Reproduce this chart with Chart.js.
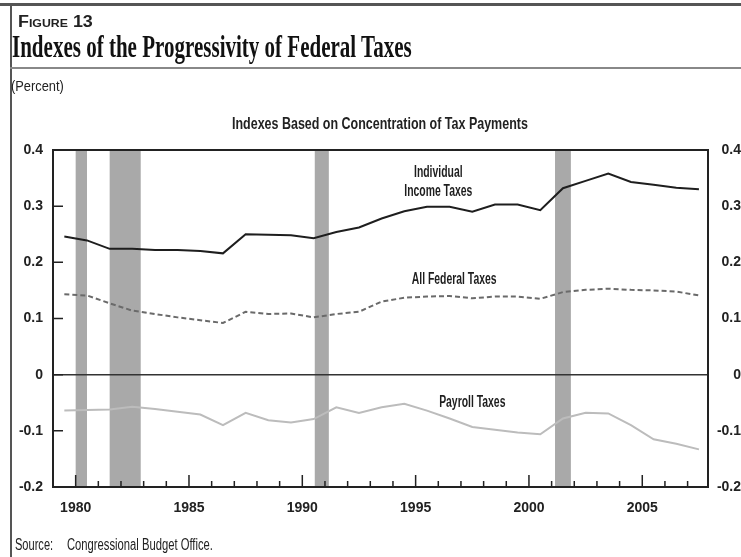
<!DOCTYPE html>
<html>
<head>
<meta charset="utf-8">
<script src="https://cdn.jsdelivr.net/npm/chart.js@4.4.0/dist/chart.umd.min.js"></script>
<style>
  body { margin: 0; background: #fff; }
  #wrap { position: relative; width: 741px; height: 557px; overflow: hidden; background: #fff; }
  #myChart { position: absolute; left: 0; top: 0; }
  .bar { position: absolute; background: #555; }
  .txt { position: absolute; line-height: 1; white-space: nowrap; color: #222; transform-origin: left top; font-family: 'Liberation Sans', Arial, sans-serif; }
  #fig { left: 18px; top: 14px; font-size: 16px; font-weight: bold; font-variant: small-caps; }
  #title { left: 12px; top: 29px; font: bold 31px 'Liberation Serif', serif; color: #111; }
  #sub { left: 232px; top: 115px; font-size: 17px; font-weight: bold; }
  #unit { left: 11px; top: 78px; font-size: 15px; }
  #srcA { left: 15px; top: 537px; font-size: 16px; }
  #srcB { left: 67px; top: 537px; font-size: 16px; }
</style>
</head>
<body>
<div id="wrap">
  <canvas id="myChart" width="741" height="557"></canvas>
  <div class="bar" style="left:0;top:3px;width:741px;height:3px;"></div>
  <div class="bar" style="left:10px;top:3px;width:2px;height:554px;"></div>
  <div class="bar" style="left:10px;top:67px;width:731px;height:2px;background:#888;"></div>
  <div class="txt" id="fig">Figure 13</div>
  <div class="txt" id="title">Indexes of the Progressivity of Federal Taxes</div>
  <div class="txt" id="unit">(Percent)</div>
  <div class="txt" id="sub">Indexes Based on Concentration of Tax Payments</div>
  <div class="txt" id="srcA">Source:</div>
  <div class="txt" id="srcB">Congressional Budget Office.</div>
</div>
<script>
// values, one per year
const years = [1979, 1980, 1981, 1982, 1983, 1984, 1985, 1986, 1987, 1988, 1989, 1990, 1991, 1992, 1993, 1994,
  1995, 1996, 1997, 1998, 1999, 2000, 2001, 2002, 2003, 2004, 2005, 2006, 2007];
const individualIncome = [0.246, 0.239, 0.224, 0.224, 0.222, 0.222, 0.220, 0.216, 0.250, 0.249, 0.248, 0.243, 0.254, 0.262, 0.278, 0.291,
  0.299, 0.299, 0.290, 0.303, 0.303, 0.293, 0.332, 0.345, 0.358, 0.343, 0.338, 0.333, 0.330];
const allFederal = [0.143, 0.141, 0.127, 0.114, 0.108, 0.102, 0.097, 0.092, 0.112, 0.108, 0.109, 0.102, 0.108, 0.112, 0.130, 0.137,
  0.139, 0.140, 0.136, 0.139, 0.139, 0.135, 0.147, 0.151, 0.153, 0.151, 0.150, 0.148, 0.141];
const payroll = [-0.064, -0.063, -0.062, -0.057, -0.061, -0.066, -0.071, -0.090, -0.068, -0.081, -0.085, -0.079, -0.058, -0.068, -0.058, -0.052,
  -0.064, -0.078, -0.093, -0.098, -0.103, -0.106, -0.078, -0.068, -0.069, -0.090, -0.115, -0.123, -0.133];

// recessions (shaded bars)
const recessionStart = [1980.0, 1981.5, 1990.55, 2001.15];
const recessionEnd = [1980.5, 1982.87, 1991.17, 2001.85];

const xTickYears = [1980, 1985, 1990, 1995, 2000, 2005];
const seriesNames = ['Individual Income Taxes', 'All Federal Taxes', 'Payroll Taxes'];

// where the series names sit (data units) and how they wrap
const nameLines = [['Individual', 'Income Taxes'], ['All Federal Taxes'], ['Payroll Taxes']];
const nameX = [1996.0, 1996.7, 1997.5];
const nameY = [0.342, 0.170, -0.050];

const sans = "'Liberation Sans', Arial, sans-serif";

function toPoints(vals) {
  return years.map((yr, i) => ({ x: yr + 0.5, y: vals[i] }));
}

const recessionBars = {
  id: 'recessionBars',
  beforeDraw(chart) {
    const { ctx, chartArea: a, scales: { x } } = chart;
    ctx.save();
    ctx.fillStyle = '#a9a9a9';
    for (let i = 0; i < recessionStart.length; i++) {
      const x0 = x.getPixelForValue(recessionStart[i]);
      const x1 = x.getPixelForValue(recessionEnd[i]);
      ctx.fillRect(x0, a.top, x1 - x0, a.bottom - a.top);
    }
    ctx.restore();
  }
};

const frameAndTicks = {
  id: 'frameAndTicks',
  afterDatasetsDraw(chart) {
    const { ctx, chartArea: a, scales: { x, y } } = chart;
    ctx.save();
    ctx.strokeStyle = '#222';
    ctx.lineWidth = 1.5;
    ctx.beginPath();
    for (let yr = Math.ceil(x.min) + 1; yr < x.max; yr++) {
      const px = x.getPixelForValue(yr);
      const len = yr % 5 === 0 ? 12 : 6;
      ctx.moveTo(px, a.bottom);
      ctx.lineTo(px, a.bottom - len);
    }
    y.ticks.forEach(t => {
      const py = y.getPixelForValue(t.value);
      ctx.moveTo(a.left, py);
      ctx.lineTo(a.left + 10, py);
    });
    ctx.stroke();
    ctx.lineWidth = 2;
    ctx.strokeRect(a.left, a.top, a.right - a.left, a.bottom - a.top);

    // series names, condensed like the original type
    ctx.fillStyle = '#1e1e1e';
    ctx.font = 'bold 16px ' + sans;
    ctx.textAlign = 'center';
    ctx.textBaseline = 'middle';
    nameLines.forEach((lines, i) => {
      const cx = x.getPixelForValue(nameX[i]);
      const cy = y.getPixelForValue(nameY[i]);
      lines.forEach((txt, j) => {
        ctx.save();
        ctx.translate(cx, cy + (j - (lines.length - 1) / 2) * 19);
        ctx.scale(0.65, 1);
        ctx.fillText(txt, 0, 0);
        ctx.restore();
      });
    });
    ctx.restore();
  }
};

const tickFont = { family: sans, size: 14, weight: 'bold' };
const yLabel = v => Math.abs(v) < 1e-9 ? '0' : v.toFixed(1);

new Chart(document.getElementById('myChart'), {
  type: 'line',
  data: {
    datasets: [
      { label: seriesNames[0], data: toPoints(individualIncome), borderColor: '#1e1e1e', borderWidth: 2 },
      { label: seriesNames[1], data: toPoints(allFederal), borderColor: '#6a6a6a', borderWidth: 2, borderDash: [5, 3] },
      { label: seriesNames[2], data: toPoints(payroll), borderColor: '#bcbcbc', borderWidth: 2 }
    ]
  },
  options: {
    responsive: false,
    animation: false,
    devicePixelRatio: 1,
    elements: { point: { radius: 0 }, line: { tension: 0 } },
    layout: { padding: { left: 0, right: 0, top: 150, bottom: 40.2 } },
    plugins: {
      legend: { display: false },
      tooltip: { enabled: false },
      title: { display: false }
    },
    scales: {
      x: {
        type: 'linear',
        min: 1979,
        max: 2007.9,
        afterBuildTicks: s => { s.ticks = xTickYears.map(v => ({ value: v })); },
        afterFit: s => { s.height = 29.8; },
        ticks: { autoSkip: false, maxRotation: 0, padding: 13, color: '#222', font: tickFont, callback: v => String(v) },
        grid: { display: false, drawTicks: false },
        border: { display: false }
      },
      y: {
        position: 'left',
        min: -0.2,
        max: 0.4,
        afterFit: s => { s.width = 53; },
        ticks: { stepSize: 0.1, padding: 10, color: '#222', font: tickFont, callback: yLabel },
        grid: {
          drawTicks: false,
          lineWidth: 1.5,
          color: c => Math.abs(c.tick.value) < 1e-9 ? '#333' : 'rgba(0,0,0,0)'
        },
        border: { display: false }
      },
      y2: {
        position: 'right',
        min: -0.2,
        max: 0.4,
        afterFit: s => { s.width = 33; },
        ticks: { stepSize: 0.1, padding: 14, crossAlign: 'far', color: '#222', font: tickFont, callback: yLabel },
        grid: { display: false, drawTicks: false },
        border: { display: false }
      }
    }
  },
  plugins: [recessionBars, frameAndTicks]
});

// the original uses condensed type; squeeze each text block to its width in the figure
function fitWidth(id, w) {
  const el = document.getElementById(id);
  el.style.transform = 'scaleX(' + (w / el.offsetWidth).toFixed(3) + ')';
}
fitWidth('fig', 75);
fitWidth('title', 400);
fitWidth('sub', 296);
fitWidth('unit', 53);
fitWidth('srcA', 38);
fitWidth('srcB', 146);
</script>
</body>
</html>
